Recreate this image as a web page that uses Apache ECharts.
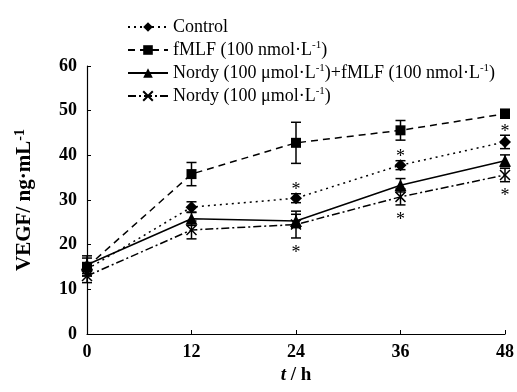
<!DOCTYPE html>
<html>
<head>
<meta charset="utf-8">
<script src="https://cdn.jsdelivr.net/npm/echarts@6/dist/echarts.min.js"></script>
<style>
  html, body { margin: 0; padding: 0; background: #fff; }
  #chart { width: 517px; height: 392px; }
</style>
</head>
<body>
<div id="chart"></div>
<script>
const hours = [0, 12, 24, 36, 48];

const control = [14.5, 28.4, 30.4, 37.8, 43.0];
const fmlf = [15.0, 35.8, 42.8, 45.6, 49.3];
const combo = [15.5, 25.8, 25.3, 33.3, 38.8];
const nordy = [13.0, 23.3, 24.5, 30.7, 35.6];

const controlErr = [1.5, 1.2, 1.0, 1.0, 1.5];
const fmlfErr = [2.0, 2.6, 4.6, 2.2, 1.0];
const comboErr = [2.0, 1.5, 1.5, 1.5, 1.3];
const nordyErr = [1.5, 2.0, 3.0, 1.8, 1.5];

// significance marks: 1 = asterisk
const controlStar = [0, 0, 1, 1, 1];
const nordyStar = [0, 0, 1, 1, 1];

const yTicks = [0, 10, 20, 30, 40, 50, 60];

const FONT = "Liberation Serif";
const BLACK = "#000";

const names = [
  "Control",
  "fMLF (100 nmol·L-1)",
  "Nordy (100 μmol·L-1)+fMLF (100 nmol·L-1)",
  "Nordy (100 μmol·L-1)"
];

function pts(vals) {
  return hours.map((h, i) => [h, vals[i]]);
}

function errSeries(vals, errs) {
  return {
    type: "custom",
    silent: true,
    z: 3,
    renderItem: (params, api) => {
      const x = api.value(0), y = api.value(1), e = api.value(2);
      const top = api.coord([x, y + e]);
      const bot = api.coord([x, y - e]);
      const w = 5;
      const style = { stroke: BLACK, lineWidth: 1.5 };
      return {
        type: "group",
        children: [
          { type: "line", shape: { x1: top[0], y1: top[1], x2: bot[0], y2: bot[1] }, style },
          { type: "line", shape: { x1: top[0] - w, y1: top[1], x2: top[0] + w, y2: top[1] }, style },
          { type: "line", shape: { x1: bot[0] - w, y1: bot[1], x2: bot[0] + w, y2: bot[1] }, style }
        ]
      };
    },
    data: hours.map((h, i) => [h, vals[i], errs[i]])
  };
}

function starSeries(vals, errs, flags, dir) {
  return {
    type: "custom",
    silent: true,
    z: 4,
    renderItem: (params, api) => {
      const x = api.value(0), y = api.value(1), e = api.value(2);
      const p = api.coord([x, y + dir * e]);
      return {
        type: "text",
        style: {
          x: p[0],
          y: p[1] + (dir > 0 ? -3 : 15),
          text: "*",
          font: "18px " + FONT,
          fill: BLACK,
          align: "center",
          verticalAlign: "middle"
        }
      };
    },
    data: hours.map((h, i) => [h, vals[i], errs[i]]).filter((d, i) => flags[i])
  };
}

function lineSeries(name, vals, dash, symbol, size, extra) {
  return Object.assign({
    name,
    type: "line",
    data: pts(vals),
    symbol,
    symbolSize: size,
    z: 5,
    lineStyle: { color: BLACK, width: 1.5, type: dash },
    itemStyle: { color: BLACK }
  }, extra || {});
}

const chart = echarts.init(document.getElementById("chart"));

chart.setOption({
  animation: false,
  backgroundColor: "#fff",
  textStyle: { fontFamily: FONT, color: BLACK },
  grid: { left: 87, right: 12, top: 66, bottom: 58 },
  legend: {
    data: names,
    orient: "vertical",
    left: 122,
    top: 13,
    itemWidth: 40,
    itemHeight: 12,
    itemGap: 4,
    selectedMode: false,
    textStyle: {
      fontFamily: FONT,
      fontSize: 18,
      color: BLACK,
      rich: {
        s: { fontFamily: FONT, fontSize: 11, padding: [0, 0, 9, 0], color: BLACK }
      }
    },
    formatter: (n) => n.replace(/-1/g, "{s|-1}")
  },
  xAxis: {
    type: "value",
    min: 0,
    max: 48,
    interval: 12,
    name: "{i|t} / h",
    nameLocation: "middle",
    nameGap: 32,
    nameTextStyle: {
      fontFamily: FONT,
      fontSize: 19,
      fontWeight: "bold",
      color: BLACK,
      rich: { i: { fontFamily: FONT, fontSize: 19, fontWeight: "bold", fontStyle: "italic", color: BLACK } }
    },
    axisLine: { lineStyle: { color: BLACK, width: 1.2 } },
    axisTick: { inside: true, length: 4, lineStyle: { color: BLACK } },
    axisLabel: { fontFamily: FONT, fontSize: 18, fontWeight: "bold", color: BLACK, margin: 9 },
    splitLine: { show: false }
  },
  yAxis: {
    type: "value",
    min: yTicks[0],
    max: yTicks[yTicks.length - 1],
    interval: 10,
    name: "VEGF/ ng·mL{s|-1}",
    nameLocation: "middle",
    nameGap: 50,
    nameRotate: 90,
    nameTextStyle: {
      fontFamily: FONT,
      fontSize: 21,
      fontWeight: "bold",
      color: BLACK,
      rich: { s: { fontFamily: FONT, fontSize: 14, fontWeight: "bold", padding: [0, 0, 10, 0], color: BLACK } }
    },
    axisLine: { show: true, lineStyle: { color: BLACK, width: 1.2 } },
    axisTick: { show: true, inside: true, length: 4, lineStyle: { color: BLACK } },
    axisLabel: { fontFamily: FONT, fontSize: 18, fontWeight: "bold", color: BLACK, margin: 10 },
    splitLine: { show: false }
  },
  series: [
    lineSeries(names[0], control, [2, 4], "diamond", 12),
    lineSeries(names[1], fmlf, [7, 5], "rect", 10),
    lineSeries(names[2], combo, "solid", "triangle", 12),
    lineSeries(names[3], nordy, [8, 3, 2, 3], "path://M0,0 L10,10 M10,0 L0,10", 10, {
      itemStyle: { color: BLACK, borderColor: BLACK, borderWidth: 1.5 }
    }),
    errSeries(control, controlErr),
    errSeries(fmlf, fmlfErr),
    errSeries(combo, comboErr),
    errSeries(nordy, nordyErr),
    starSeries(control, controlErr, controlStar, 1),
    starSeries(nordy, nordyErr, nordyStar, -1)
  ]
});
</script>
</body>
</html>
